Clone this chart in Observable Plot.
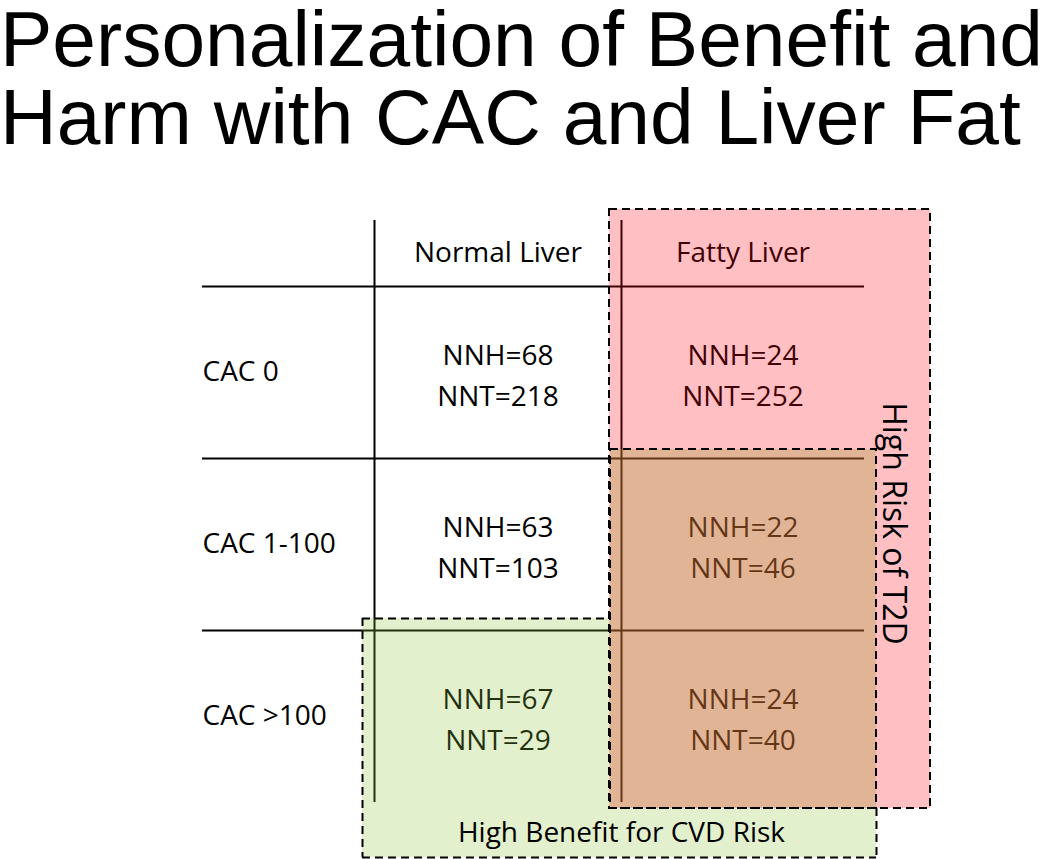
<!DOCTYPE html>
<html><head><meta charset="utf-8">
<script src="https://cdn.jsdelivr.net/npm/d3@7"></script>
<script src="https://cdn.jsdelivr.net/npm/@observablehq/plot@0.6"></script>
<style>
body{margin:0;background:#fff;}
#title{font-family:"Liberation Sans",Arial,sans-serif;font-size:78.5px;line-height:78px;height:160px;margin:0;white-space:nowrap;color:#000;}
#chart svg{display:block;}
</style></head><body>
<div id="title">Personalization of Benefit and<br>Harm with CAC and Liver Fat</div>
<div id="chart"></div>
<script>
// ---- data ----
const columns = ["Normal Liver", "Fatty Liver"];
const rows = ["CAC 0", "CAC 1-100", "CAC >100"];
const nnh = [[68, 24], [63, 22], [67, 24]];
const nnt = [[218, 252], [103, 46], [29, 40]];
const riskLabel = "High Risk of T2D";
const benefitLabel = "High Benefit for CVD Risk";
// regions as spans of the grid (columns 1..3 = Normal, Fatty; rows 1..4 = CAC groups)
const riskSpan = {x1: 2, x2: 3, y1: 0, y2: 4};
const overlapSpan = {x1: 2, x2: 3, y1: 2, y2: 4};
const benefitSpan = {x1: 1, x2: 3, y1: 3, y2: 4};

// ---- derived tables ----
const headerCells = columns.map((c, j) => ({x: j + 1.5, y: 0.5, text: c}));
const rowCells = rows.map((r, i) => ({x: 0, y: i + 1.5, text: r}));
const valueCells = rows.flatMap((r, i) => columns.map((c, j) => ({
  x: j + 1.5, y: i + 1.5, text: `NNH=${nnh[i][j]}\nNNT=${nnt[i][j]}`
})));
const hLines = d3.range(1, rows.length + 1);
const vLines = d3.range(1, columns.length + 1);

const dash = "8,5";
const font = 28;

const chart = Plot.plot({
  width: 1050,
  height: 699,
  margin: 0,
  style: {fontFamily: "'Open Sans', sans-serif", background: "#fff", overflow: "visible"},
  x: {type: "linear", domain: [0, 1, 2, 3], range: [202, 374, 621, 864], axis: null},
  y: {type: "linear", domain: [0, 1, 2, 3, 4], range: [60, 126, 298, 470, 642], axis: null},
  marks: [
    // table grid
    Plot.ruleY(hLines, {y: d => d, x1: 0, x2: columns.length + 1, stroke: "#000", strokeWidth: 2}),
    Plot.ruleX(vLines, {x: d => d, y1: 0, y2: rows.length + 1, stroke: "#000", strokeWidth: 2}),
    // table text
    Plot.text(headerCells, {x: "x", y: "y", text: "text", fontSize: font, fill: "#000"}),
    Plot.text(rowCells, {x: "x", y: "y", text: "text", fontSize: font, fill: "#000", textAnchor: "start"}),
    Plot.text(valueCells, {x: "x", y: "y", text: "text", fontSize: font, fill: "#000", lineHeight: 1.46}),
    // translucent overlays
    Plot.rect([riskSpan], {x1: "x1", x2: "x2", y1: "y1", y2: "y2", fill: "rgb(255,0,16)", fillOpacity: 0.25,
      insetLeft: -12, insetRight: -66, insetTop: -11, insetBottom: -6}),
    Plot.rect([overlapSpan], {x1: "x1", x2: "x2", y1: "y1", y2: "y2", fill: "rgb(168,159,62)", fillOpacity: 0.34,
      insetLeft: -11, insetRight: -12, insetTop: -9, insetBottom: -6}),
    Plot.rect([benefitSpan], {x1: "x1", x2: d => overlapSpan.x1, y1: "y1", y2: "y2", fill: "rgb(140,196,56)", fillOpacity: 0.25,
      insetLeft: -12, insetRight: 11, insetTop: -12, insetBottom: -55}),
    Plot.rect([benefitSpan], {x1: d => overlapSpan.x1, x2: "x2", y1: "y2", y2: "y2", fill: "rgb(140,196,56)", fillOpacity: 0.25,
      insetLeft: -11, insetRight: -12, insetTop: 6, insetBottom: -55}),
    // dashed outlines
    Plot.rect([riskSpan], {x1: "x1", x2: "x2", y1: "y1", y2: "y2", fill: "none", stroke: "#000", strokeWidth: 2, strokeDasharray: dash,
      insetLeft: -12, insetRight: -66, insetTop: -11, insetBottom: -6}),
    Plot.rect([overlapSpan], {x1: "x1", x2: "x2", y1: "y1", y2: "y2", fill: "none", stroke: "#000", strokeWidth: 2, strokeDasharray: dash,
      insetLeft: -11, insetRight: -12, insetTop: -9, insetBottom: -6}),
    Plot.ruleY([benefitSpan], {y: "y1", x1: "x1", x2: d => overlapSpan.x1, dy: -12, insetLeft: -12, insetRight: 11, stroke: "#000", strokeWidth: 2, strokeDasharray: dash}),
    Plot.ruleX([benefitSpan], {x: "x1", y1: "y1", y2: "y2", dx: -12, insetTop: -12, insetBottom: -55, stroke: "#000", strokeWidth: 2, strokeDasharray: dash}),
    Plot.ruleY([benefitSpan], {y: "y2", x1: "x1", x2: "x2", dy: 55, insetLeft: -12, insetRight: -12, stroke: "#000", strokeWidth: 2, strokeDasharray: dash}),
    Plot.ruleX([benefitSpan], {x: "x2", y1: "y2", y2: "y2", dx: 12, insetTop: 6, insetBottom: -55, stroke: "#000", strokeWidth: 2, strokeDasharray: dash}),
    // region labels
    Plot.text([riskSpan], {x: "x2", y: d => (d.y1 + d.y2) / 2, text: () => riskLabel, rotate: 90, dx: 29, dy: 65, fontSize: 32, fill: "#000"}),
    Plot.text([benefitSpan], {x: d => overlapSpan.x1, y: "y2", text: () => benefitLabel, dy: 31, fontSize: font, fill: "#000"})
  ]
});
document.getElementById("chart").appendChild(chart);
</script>
</body></html>
